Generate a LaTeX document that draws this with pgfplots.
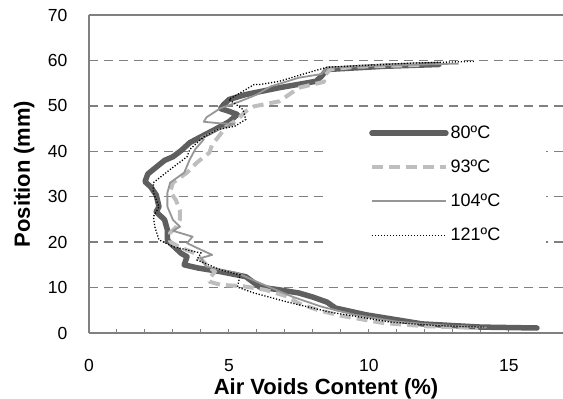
\documentclass[border=0pt]{standalone}
\usepackage{pgfplots}
\pgfplotsset{compat=1.18}
\usepackage{fontspec}
\setmainfont{Liberation Sans}
\definecolor{c80}{RGB}{95,95,95}
\definecolor{c93}{RGB}{190,190,190}
\definecolor{c104}{RGB}{150,150,150}
\definecolor{gridc}{RGB}{128,128,128}
\begin{document}
\begin{tikzpicture}
\begin{axis}[
  scale only axis,
  width=474pt, height=318pt,
  xmin=0, xmax=16.93, ymin=0, ymax=70,
  axis x line*=box, axis y line*=left,
  axis line style={gridc, line width=1.3pt, -},
  xtick={0,5,10,15}, minor x tick num=4,
  ytick={0,10,...,70},
  xtick pos=bottom, tick align=inside,
  x tick style={gridc, line width=1pt},
  major tick length=4pt, minor tick length=4pt,
  y tick style={draw=none},
  ymajorgrids,
  grid style={gridc, line width=1.4pt, dash pattern=on 9pt off 6pt},
  /pgf/number format/assume math mode=true,
  tick label style={font=\fontsize{17.5}{19}\selectfont},
  xticklabel style={yshift=-23pt},
  yticklabel style={xshift=-18pt},
  xlabel={\textbf{Air Voids Content (\%)}},
  ylabel={\textbf{Position (mm)}},
  label style={font=\fontsize{22}{24}\selectfont},
  x label style={at={(axis description cs:0.5,0)}, anchor=center, yshift=-56pt},
  y label style={at={(axis description cs:-0.137,0.5)}, anchor=center},
  legend image code/.code={\draw[#1] (0pt,0pt) -- (74pt,0pt);},
  legend cell align=left,
  legend style={at={(axis cs:8.43,46.9)}, anchor=north west, draw=none, fill=white,
    inner xsep=44pt, inner ysep=4pt, font=\fontsize{18}{20}\selectfont, row sep=16pt},
]
\addplot[c80, line width=5.5pt, line join=round, line cap=round] coordinates {
(12.5,59.1)(10.5,58.7)(8.5,58.0)(8.3,56.5)(8.1,55.4)(6.8,54.0)(5.6,52.5)(5.0,51.4)(4.8,50.2)(4.7,49.4)(5.0,48.8)(5.3,48.1)(5.0,46.5)(4.5,44.8)(4.0,43.2)(3.6,41.9)(3.3,40.2)(3.0,38.8)(2.7,38.0)(2.4,36.5)(2.1,35.0)(2.0,33.3)(2.2,32.2)(2.4,30.4)(2.5,27.8)(2.4,26.7)(2.7,24.9)(2.8,22.7)(2.8,20.5)(2.9,19.8)(3.3,17.5)(3.5,16.8)(3.4,15.0)(3.9,14.3)(4.7,13.5)(5.6,12.4)(6.1,10.1)(6.8,9.5)(7.5,8.8)(8.0,7.9)(8.5,6.8)(8.8,5.5)(9.9,4.0)(11.0,2.9)(11.9,2.0)(14.0,1.3)(16.0,1.1)
};
\addlegendentry{80ºC}
\addplot[c93, line width=4pt, dash pattern=on 11pt off 6pt, line join=round] coordinates {
(11.8,59.0)(9.5,58.6)(8.6,58.0)(8.4,56.5)(8.4,55.3)(7.5,54.0)(6.8,51.0)(5.9,49.9)(5.6,48.8)(5.3,47.0)(4.9,45.4)(4.6,43.0)(4.4,41.5)(4.3,39.7)(3.85,37.5)(3.5,35.3)(3.0,33.1)(2.9,31.1)(3.1,29.3)(3.25,27.1)(3.25,25.0)(3.1,23.2)(2.9,22.1)(2.9,20.1)(3.2,19.0)(3.8,17.5)(4.2,15.0)(4.5,13.5)(4.3,12.0)(4.3,11.3)(4.7,10.6)(5.5,10.3)(6.3,9.5)(7.0,8.2)(7.5,6.5)(8.2,5.0)(9.0,3.8)(10.5,2.2)(12.0,1.5)(13.9,1.1)
};
\addlegendentry{93ºC}
\addplot[c104, line width=1.8pt, line join=round] coordinates {
(13.2,59.3)(10.5,58.9)(8.5,58.4)(8.3,57.0)(7.5,56.2)(6.5,54.3)(6.0,52.5)(5.4,51.0)(4.7,49.5)(4.2,47.5)(4.1,46.5)(4.6,46.2)(5.2,46.0)(4.5,44.5)(4.0,43.0)(4.1,42.6)(3.8,40.5)(3.6,38.2)(3.4,35.3)(2.9,33.1)(2.8,30.9)(2.8,27.8)(3.0,24.9)(3.25,23.4)(3.0,22.5)(3.7,21.2)(3.5,19.8)(3.85,18.75)(4.4,17.2)(4.0,16.5)(4.2,14.6)(5.3,13.2)(6.1,11.0)(7.3,7.9)(8.3,5.8)(9.5,4.0)(11.0,2.5)(13.0,1.5)(14.2,1.2)
};
\addlegendentry{104ºC}
\addplot[black, line width=1.3pt, dash pattern=on 1.2pt off 1.8pt] coordinates {
(13.75,59.8)(11.5,59.4)(8.5,58.5)(7.6,56.9)(6.8,55.4)(6.1,54.7)(5.9,54.7)(5.0,51.4)(5.5,49.2)(5.6,47.0)(5.2,45.5)(4.6,44.8)(4.1,43.2)(3.6,40.4)(3.5,38.8)(2.9,36.0)(2.3,33.1)(2.3,30.9)(2.5,27.8)(2.3,25.6)(2.35,23.4)(2.5,20.5)(3.0,19.0)(4.0,17.6)(3.85,16.1)(4.7,13.9)(5.4,12.8)(5.3,10.1)(5.9,8.8)(7.1,6.8)(8.6,4.6)(10.75,2.4)(12.5,1.6)(14.1,1.3)
};
\addlegendentry{121ºC}
\end{axis}
\pgfresetboundingbox
\path (-89pt,-66pt) rectangle (474pt,333pt);
\end{tikzpicture}
\end{document}
